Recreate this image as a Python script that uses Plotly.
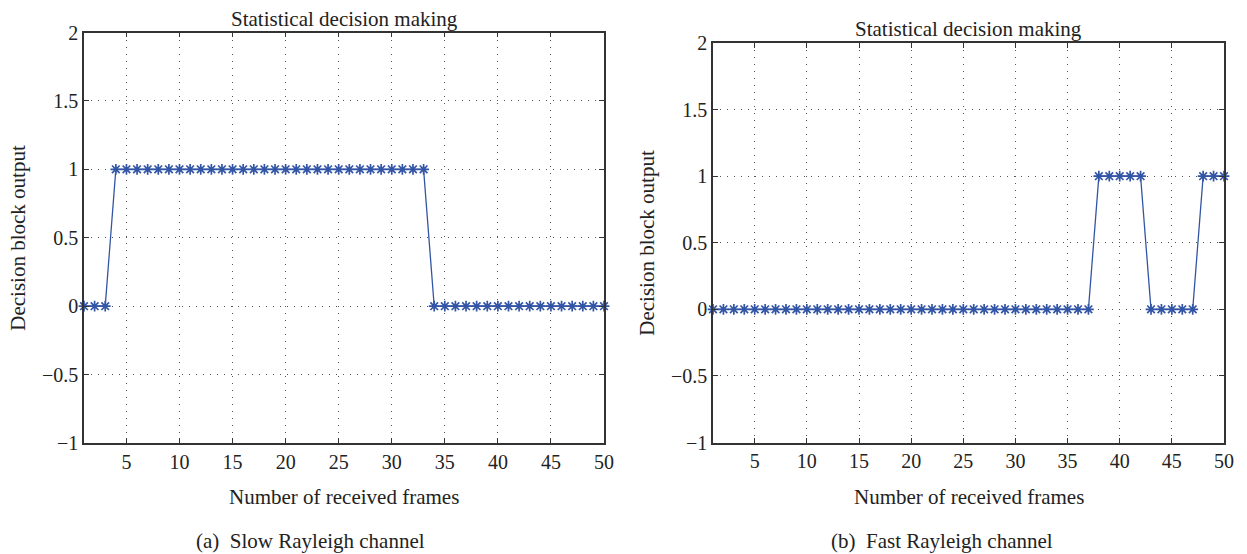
import plotly.graph_objects as go

frames = list(range(1, 51))
slow_output = [0]*3 + [1]*30 + [0]*17
fast_output = [0]*37 + [1]*5 + [0]*5 + [1]*3

x_ticks = [5, 10, 15, 20, 25, 30, 35, 40, 45, 50]
y_ticks = [-1, -0.5, 0, 0.5, 1, 1.5, 2]

title_text = "Statistical decision making"
xlabel = "Number of received frames"
ylabel = "Decision block output"
captions = ["(a)  Slow Rayleigh channel", "(b)  Fast Rayleigh channel"]

W, H = 1247, 554
FONT = "Liberation Serif"
BLUE = "#3355a5"
AX = "#333333"
TXT = "#222222"

fig = go.Figure()
for i, (y, xa, ya) in enumerate([(slow_output, "x", "y"), (fast_output, "x2", "y2")]):
    fig.add_trace(go.Scatter(
        x=frames, y=y, xaxis=xa, yaxis=ya, mode="lines+markers",
        line=dict(color=BLUE, width=1.3),
        marker=dict(symbol="asterisk-open", size=9, line=dict(color=BLUE, width=1.7)),
        showlegend=False, cliponaxis=False))

def px_x(p):
    return p / W
def px_y(p):
    return 1 - p / H

dom = [
    dict(x=(84, 604), y=(32.5, 443), cap=310),
    dict(x=(713, 1224), y=(43, 442.5), cap=942),
]

axis_common = dict(
    showline=True, linecolor=AX, linewidth=1.5, mirror="ticks",
    ticks="inside", ticklen=5, tickwidth=1, tickcolor=AX,
    showgrid=True, gridcolor="#555555", gridwidth=1, griddash="1px,6px",
    zeroline=False, automargin=False,
    tickfont=dict(family=FONT, size=20, color=TXT),
)

for i, d in enumerate(dom):
    sfx = "" if i == 0 else "2"
    fig.layout["xaxis" + sfx] = dict(
        axis_common, domain=[px_x(d["x"][0]), px_x(d["x"][1])],
        range=[1, 50], tickvals=x_ticks, anchor="y" + sfx)
    fig.layout["yaxis" + sfx] = dict(
        axis_common, domain=[px_y(d["y"][1]), px_y(d["y"][0])],
        range=[-1, 2], tickvals=y_ticks, anchor="x" + sfx,
        ticksuffix=" ")
    cx = (d["x"][0] + d["x"][1]) / 2
    ann = [
        (cx, d["y"][0] - 14, title_text),
        (cx, 497, xlabel),
        (d["cap"], 541, captions[i]),
    ]
    for (ax_, ay_, txt) in ann:
        fig.add_annotation(x=px_x(ax_), y=px_y(ay_), xref="paper", yref="paper",
                           text=txt, showarrow=False, xanchor="center", yanchor="middle",
                           font=dict(family=FONT, size=21, color=TXT))
    fig.add_annotation(x=px_x(d["x"][0] - 66), y=px_y((d["y"][0] + d["y"][1]) / 2),
                       xref="paper", yref="paper", text=ylabel, textangle=-90,
                       showarrow=False, xanchor="center", yanchor="middle",
                       font=dict(family=FONT, size=21, color=TXT))

fig.update_layout(width=W, height=H, margin=dict(l=0, r=0, t=0, b=0),
                  font=dict(family=FONT, size=20, color=TXT),
                  plot_bgcolor="white", paper_bgcolor="white")
fig.write_html("out.html", config={"displayModeBar": False},
               post_script="document.body.style.margin='0';document.body.style.overflow='hidden';")
